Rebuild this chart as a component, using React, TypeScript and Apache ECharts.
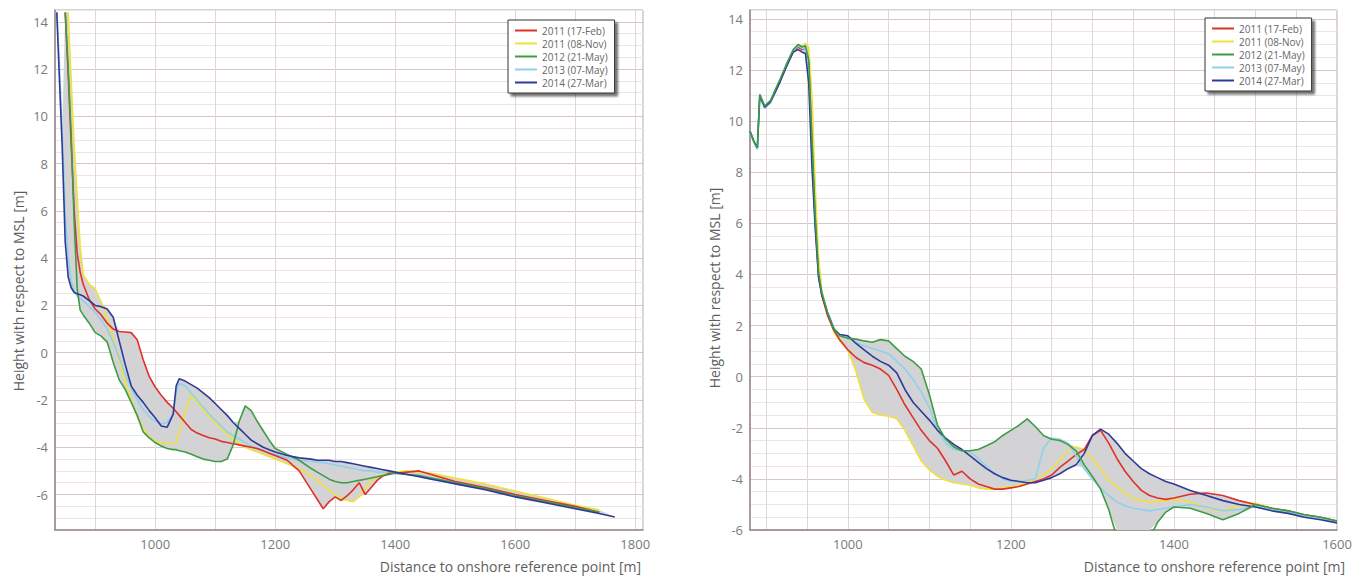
import React, { useEffect, useRef } from "react";
import * as echarts from "echarts";

const seriesNames = ["2011 (17-Feb)", "2011 (08-Nov)", "2012 (21-May)", "2013 (07-May)", "2014 (27-Mar)"];
const seriesColors = ["#e0302a", "#f0e23a", "#3f9c45", "#8ed2ea", "#2f3a98"];

// ---------- left panel ----------
const leftX = [
  836, 840, 845, 850, 855, 860, 865, 870, 875, 880,
  890, 900, 910, 920, 930, 940, 950, 960, 970, 980,
  990, 1000, 1010, 1020, 1030, 1035, 1040, 1050, 1060, 1070,
  1080, 1090, 1100, 1110, 1120, 1130, 1140, 1150, 1160, 1170,
  1180, 1190, 1200, 1220, 1240, 1260, 1270, 1280, 1290, 1300,
  1310, 1320, 1330, 1340, 1350, 1360, 1370, 1380, 1390, 1400,
  1420, 1440, 1460, 1480, 1500, 1550, 1600, 1650, 1700, 1740,
  1766,
];
const leftFeb2011 = [
  null, null, null, 14.4, 11.8, 8.8, 6.0, 4.2, 3.4, 2.9,
  2.25, 1.85, 1.6, 1.25, 1.0, 0.9, 0.88, 0.85, 0.55, -0.3,
  -1.0, -1.45, -1.8, -2.1, -2.35, -2.5, -2.65, -2.95, -3.25, -3.4,
  -3.5, -3.6, -3.65, -3.75, -3.8, -3.85, -3.9, -3.95, -4.0, -4.05,
  -4.15, -4.25, -4.35, -4.55, -5.0, -5.8, -6.2, -6.6, -6.3, -6.1,
  -6.25, -6.05, -5.8, -5.5, -6.0, -5.7, -5.4, -5.2, -5.1, -5.1,
  -5.05, -5.0, -5.15, -5.3, -5.45, -5.7, -6.0, -6.25, -6.5, -6.75,
  null,
];
const leftNov2011 = [
  null, null, null, null, 14.4, 11.5, 8.7, 6.6, 4.5, 3.3,
  2.9, 2.7, 2.15, 1.4, 0.6, -0.3, -1.2, -2.0, -2.7, -3.2,
  -3.55, -3.75, -3.8, -3.85, -3.85, -3.8, -3.4, -2.5, -1.8, -2.1,
  -2.4, -2.7, -2.95, -3.2, -3.45, -3.65, -3.85, -4.0, -4.1, -4.2,
  -4.3, -4.4, -4.5, -4.7, -4.9, -5.2, -5.4, -5.6, -5.8, -6.0,
  -6.15, -6.25, -6.3, -6.1, -5.7, -5.4, -5.25, -5.15, -5.1, -5.05,
  -5.0, -5.05, -5.1, -5.2, -5.3, -5.55, -5.85, -6.15, -6.45, -6.65,
  null,
];
const leftMay2012 = [
  null, null, null, 14.4, 12.0, 9.2, 5.5, 2.7, 1.8, 1.6,
  1.25, 0.85, 0.7, 0.45, -0.4, -1.15, -1.55, -2.1, -2.65, -3.35,
  -3.6, -3.8, -3.95, -4.05, -4.1, -4.1, -4.15, -4.2, -4.3, -4.4,
  -4.5, -4.55, -4.6, -4.6, -4.5, -3.9, -2.9, -2.25, -2.45, -2.9,
  -3.3, -3.7, -4.05, -4.3, -4.55, -4.9, -5.05, -5.2, -5.35, -5.45,
  -5.5, -5.5, -5.45, -5.4, -5.35, -5.3, -5.25, -5.2, -5.15, -5.1,
  -5.15, -5.2, -5.3, -5.4, -5.5, -5.75, -6.05, -6.3, -6.55, -6.75,
  null,
];
const leftMay2013 = [
  14.4, 12.4, 9.4, 6.0, 4.0, 3.0, 2.6, 2.4, 2.3, 2.2,
  1.95, 1.7, 1.4, 1.0, 0.45, -0.2, -0.9, -1.5, -2.0, -2.4,
  -2.7, -2.9, -3.0, -2.95, -2.6, -1.7, -1.3, -1.4, -1.7, -2.0,
  -2.3, -2.6, -2.85, -3.1, -3.35, -3.5, -3.65, -3.8, -3.95, -4.05,
  -4.15, -4.25, -4.3, -4.45, -4.55, -4.6, -4.62, -4.65, -4.7, -4.75,
  -4.8, -4.85, -4.9, -4.95, -5.0, -5.0, -5.05, -5.05, -5.05, -5.1,
  -5.15, -5.2, -5.3, -5.4, -5.5, -5.75, -6.05, -6.3, -6.55, -6.75,
  null,
];
const leftMar2014 = [
  14.4, 11.8, 8.7, 4.7, 3.2, 2.75, 2.55, 2.5, 2.45, 2.4,
  2.2, 2.0, 1.95, 1.85, 1.5, 0.5, -0.5, -1.4, -1.8, -2.1,
  -2.45, -2.75, -3.1, -3.15, -2.6, -1.4, -1.1, -1.2, -1.35, -1.5,
  -1.7, -1.9, -2.15, -2.4, -2.65, -2.95, -3.2, -3.45, -3.7, -3.85,
  -4.0, -4.1, -4.2, -4.35, -4.45, -4.5, -4.55, -4.55, -4.55, -4.6,
  -4.6, -4.65, -4.7, -4.75, -4.8, -4.85, -4.9, -4.95, -5.0, -5.05,
  -5.15, -5.25, -5.35, -5.45, -5.55, -5.8, -6.1, -6.35, -6.6, -6.8,
  -6.95,
];

// ---------- right panel ----------
const rightX = [
  880, 885, 889, 892, 898, 905, 912, 917, 925, 933,
  939, 944, 948, 952, 956, 960, 964, 968, 975, 983,
  990, 1000, 1010, 1020, 1030, 1040, 1050, 1060, 1070, 1080,
  1090, 1100, 1110, 1120, 1130, 1140, 1150, 1160, 1170, 1180,
  1190, 1200, 1210, 1220, 1230, 1240, 1250, 1260, 1270, 1280,
  1290, 1300, 1310, 1320, 1330, 1340, 1350, 1360, 1370, 1380,
  1390, 1400, 1420, 1440, 1460, 1480, 1500, 1520, 1540, 1560,
  1580, 1600,
];
const rightFeb2011 = [
  null, null, null, null, null, null, null, null, null, 12.7,
  12.9, 12.8, 12.85, 12.3, 9.0, 6.1, 4.0, 3.2, 2.4, 1.8,
  1.45, 1.05, 0.75, 0.55, 0.45, 0.3, 0.05, -0.5, -1.1, -1.6,
  -2.1, -2.5, -2.8, -3.3, -3.85, -3.7, -4.0, -4.2, -4.3, -4.4,
  -4.4, -4.35, -4.3, -4.2, -4.1, -4.0, -3.85, -3.55, -3.3, -3.05,
  -2.85, -2.3, -2.1, -2.6, -3.2, -3.7, -4.1, -4.45, -4.65, -4.75,
  -4.8, -4.75, -4.6, -4.55, -4.65, -4.85, -5.0, -5.15, -5.25, -5.4,
  -5.5, -5.65,
];
const rightNov2011 = [
  null, null, null, null, null, null, null, null, null, null,
  12.95, 12.95, 13.05, 12.9, 11.0, 7.5, 4.7, 3.4, 2.5, 1.75,
  1.4, 1.05, 0.2, -0.9, -1.4, -1.5, -1.55, -1.65, -2.1, -2.7,
  -3.3, -3.65, -3.9, -4.05, -4.15, -4.2, -4.25, -4.35, -4.4, -4.4,
  -4.35, -4.3, -4.25, -4.15, -4.0, -3.85, -3.6, -3.25, -2.9, -2.75,
  -2.85, -3.2, -3.6, -4.05, -4.3, -4.55, -4.75, -4.85, -4.9, -4.88,
  -4.85, -4.8, -4.9, -5.15, -5.25, -5.05, -4.95, -5.15, -5.3, -5.45,
  -5.55, -5.68,
];
const rightMay2012 = [
  9.6, 9.2, 8.95, 11.05, 10.6, 10.8, 11.3, 11.65, 12.25, 12.8,
  13.0, 12.9, 12.95, 12.4, 9.3, 6.3, 4.1, 3.3, 2.5, 1.85,
  1.6, 1.5, 1.47, 1.4, 1.35, 1.45, 1.4, 1.1, 0.8, 0.6,
  0.3, -0.7, -1.9, -2.45, -2.75, -2.9, -2.9, -2.85, -2.7, -2.55,
  -2.3, -2.1, -1.9, -1.65, -1.95, -2.3, -2.45, -2.5, -2.65, -2.9,
  -3.45, -3.9, -4.4, -5.2, -6.3, -7.0, -7.3, -7.0, -6.3, -5.7,
  -5.3, -5.1, -5.15, -5.35, -5.6, -5.35, -5.0, -5.15, -5.25, -5.4,
  -5.5, -5.65,
];
const rightMay2013 = [
  9.55, 9.15, 8.9, 10.95, 10.5, 10.7, 11.2, 11.55, 12.2, 12.75,
  12.95, 12.85, 12.85, 12.0, 8.8, 6.0, 4.0, 3.3, 2.55, 1.9,
  1.65, 1.55, 1.35, 1.2, 1.1, 1.0, 0.9, 0.6, 0.3, -0.1,
  -0.6, -1.2, -2.1, -2.6, -2.85, -2.9, -2.95, -3.2, -3.5, -3.8,
  -4.0, -4.1, -4.1, -4.05, -4.0, -2.8, -2.4, -2.45, -2.6, -3.1,
  -3.6, -4.0, -4.35, -4.65, -4.9, -5.05, -5.15, -5.2, -5.25, -5.2,
  -5.15, -5.1, -5.0, -5.1, -5.25, -5.2, -5.05, -5.2, -5.3, -5.45,
  -5.55, -5.7,
];
const rightMar2014 = [
  9.6, 9.2, 8.95, 11.0, 10.55, 10.75, 11.2, 11.55, 12.15, 12.7,
  12.8, 12.7, 12.65, 11.5, 8.2, 5.8, 3.9, 3.2, 2.5, 1.85,
  1.65, 1.6, 1.3, 1.05, 0.8, 0.6, 0.45, 0.15, -0.5, -1.0,
  -1.35, -1.7, -2.1, -2.4, -2.65, -2.85, -3.1, -3.35, -3.6, -3.8,
  -3.95, -4.05, -4.1, -4.15, -4.15, -4.05, -3.95, -3.8, -3.6, -3.45,
  -3.0, -2.3, -2.05, -2.25, -2.6, -3.0, -3.3, -3.6, -3.8, -3.95,
  -4.1, -4.2, -4.45, -4.65, -4.85, -5.0, -5.1, -5.25, -5.35, -5.5,
  -5.6, -5.72,
];

const leftSeries = [leftFeb2011, leftNov2011, leftMay2012, leftMay2013, leftMar2014];
const rightSeries = [rightFeb2011, rightNov2011, rightMay2012, rightMay2013, rightMar2014];

// axis ranges
const leftYRange = [-7.5, 14.5];
const leftXRange = [833, 1813];
const rightYRange = [-6, 14.35];
const rightXRange = [880, 1600];

const FONT = "'Open Sans', 'DejaVu Sans', sans-serif";
const FILL = "#d3d3d5";
const MAJOR = "#d8c6c6";
const MINOR = "#ece5e5";
const VLINE = "#ddd6da";

function envelope(xs: number[], ys: (number | null)[][]) {
  return xs.map((x, i) => {
    const v = ys.map((a) => a[i]).filter((d) => d != null) as number[];
    return [x, Math.min(...v), Math.max(...v)];
  });
}

function makeEnvelopeSeries(env: number[][], idx: number, yr: number[]) {
  const clamp = (v: number) => Math.min(Math.max(v, yr[0]), yr[1]);
  return {
    type: "custom",
    xAxisIndex: idx,
    yAxisIndex: idx,
    data: env,
    encode: { x: 0, y: [1, 2] },
    silent: true,
    clip: true,
    z: 1,
    renderItem: (params: any, api: any) => {
      if (params.dataIndex !== 0) return null;
      const top = env.map((p) => api.coord([p[0], clamp(p[2])]));
      const bot = env.map((p) => api.coord([p[0], clamp(p[1])])).reverse();
      return {
        type: "polygon",
        shape: { points: top.concat(bot) },
        style: { fill: FILL, stroke: null },
      };
    },
  };
}

function makeLines(xs: number[], all: (number | null)[][], idx: number, order: number[]) {
  return order.map((k) => ({
    type: "line",
    name: seriesNames[k],
    xAxisIndex: idx,
    yAxisIndex: idx,
    data: xs.map((x, i) => [x, all[k][i]]),
    symbol: "none",
    showSymbol: false,
    connectNulls: false,
    clip: true,
    color: seriesColors[k],
    lineStyle: { width: 1.6, color: seriesColors[k] },
    z: 3,
    silent: true,
  }));
}

const tickLabel = {
  color: "#7a7a7a",
  fontSize: 13,
  fontFamily: FONT,
};

function xAxis(idx: number, range: number[], splitNumber: number) {
  return {
    type: "value",
    gridIndex: idx,
    min: range[0],
    max: range[1],
    splitNumber,
    axisLine: { show: true, onZero: false, lineStyle: { color: "#978888", width: 1.5 } },
    axisTick: { show: false },
    axisLabel: {
      ...tickLabel,
      margin: 7,
      formatter: (v: number) => (v % 200 === 0 ? String(v) : ""),
    },
    splitLine: { show: true, lineStyle: { color: VLINE, width: 1 } },
  };
}

function yAxis(idx: number, range: number[], colors: string[]) {
  return {
    type: "value",
    gridIndex: idx,
    min: range[0],
    max: range[1],
    interval: 0.5,
    axisLine: { show: true, onZero: false, lineStyle: { color: "#978888", width: 1.5 } },
    axisTick: { show: false },
    axisLabel: {
      ...tickLabel,
      margin: 7,
      formatter: (v: number) => (Math.abs(v % 2) < 1e-9 ? String(v) : ""),
    },
    splitLine: { show: true, lineStyle: { color: colors, width: 1 } },
  };
}

const legendCommon = {
  data: seriesNames,
  orient: "vertical",
  icon: "rect",
  itemWidth: 22,
  itemHeight: 2,
  itemGap: 2,
  padding: [5, 7],
  backgroundColor: "#ffffff",
  borderColor: "#333333",
  borderWidth: 1,
  shadowColor: "rgba(0,0,0,0.55)",
  shadowBlur: 2,
  shadowOffsetX: 3,
  shadowOffsetY: 3,
  selectedMode: false,
  textStyle: { fontSize: 10, lineHeight: 11, color: "#666", fontFamily: FONT },
};

const titleStyle = { fontSize: 14, fontFamily: FONT, fill: "#5e5e5e" };

export default function App() {
  const ref = useRef<HTMLDivElement>(null);
  useEffect(() => {
    if (!ref.current) return;
    const chart = echarts.init(ref.current, null, { renderer: "svg" });
    const envL = envelope(leftX, leftSeries);
    const envR = envelope(rightX, rightSeries);
    chart.setOption({
      animation: false,
      backgroundColor: "#ffffff",
      grid: [
        { left: 55, right: 717, top: 10, bottom: 47, show: true, borderColor: "#b8a9a9", borderWidth: 1, backgroundColor: "#fff" },
        { left: 750, right: 23, top: 10, bottom: 47, show: true, borderColor: "#b8a9a9", borderWidth: 1, backgroundColor: "#fff" },
      ],
      xAxis: [xAxis(0, leftXRange, 10), xAxis(1, rightXRange, 14)],
      yAxis: [
        yAxis(0, leftYRange, [MINOR, MINOR, MINOR, MAJOR]),
        yAxis(1, rightYRange, [MAJOR, MINOR, MINOR, MINOR]),
      ],
      legend: [
        { ...legendCommon, left: 508, top: 20 },
        { ...legendCommon, left: 1205, top: 18 },
      ],
      graphic: [
        { type: "text", x: 18, y: 291, rotation: Math.PI / 2, style: { ...titleStyle, text: "Height with respect to MSL [m]", align: "center", verticalAlign: "middle" } },
        { type: "text", x: 714, y: 288, rotation: Math.PI / 2, style: { ...titleStyle, text: "Height with respect to MSL [m]", align: "center", verticalAlign: "middle" } },
        { type: "text", x: 641, y: 566, style: { ...titleStyle, text: "Distance to onshore reference point [m]", align: "right", verticalAlign: "middle" } },
        { type: "text", x: 1345, y: 566, style: { ...titleStyle, text: "Distance to onshore reference point [m]", align: "right", verticalAlign: "middle" } },
      ],
      series: [
        makeEnvelopeSeries(envL, 0, leftYRange),
        makeEnvelopeSeries(envR, 1, rightYRange),
        ...makeLines(leftX, leftSeries, 0, [1, 3, 0, 2, 4]),
        ...makeLines(rightX, rightSeries, 1, [1, 0, 3, 4, 2]),
      ],
    });
    return () => chart.dispose();
  }, []);
  return (
    <div
      ref={ref}
      style={{ position: "fixed", left: 0, top: 0, width: 1360, height: 577, background: "#fff" }}
    />
  );
}
